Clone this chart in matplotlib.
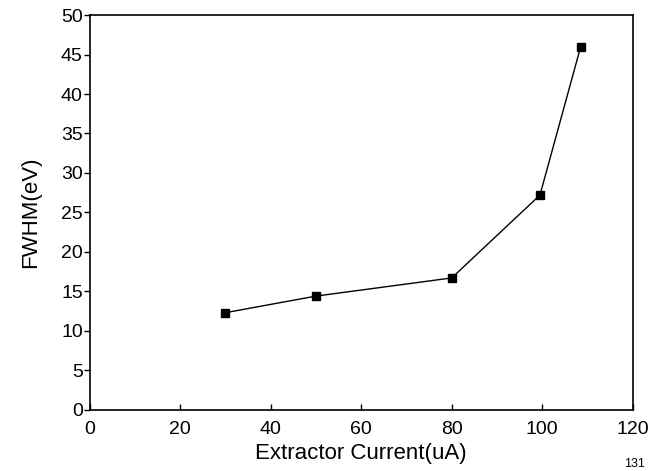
import matplotlib.pyplot as plt

plt.rcParams['font.family'] = ['Liberation Sans', 'DejaVu Sans']

# Extractor current (uA) vs FWHM (eV)
current = [30, 50, 80, 99.5, 108.5]
fwhm = [12.3, 14.4, 16.7, 27.2, 46.0]

fig = plt.figure(figsize=(6.55, 4.71), dpi=100)
ax = fig.add_axes([0.137, 0.13, 0.829, 0.838])

ax.plot(current, fwhm, color='black', linewidth=1.0, marker='s',
        markersize=6, markerfacecolor='black', markeredgecolor='black')

ax.set_xlim(0, 120)
ax.set_ylim(0, 50)
ax.set_xticks(range(0, 121, 20))
ax.set_yticks(range(0, 51, 5))
ax.tick_params(axis='y', direction='out', length=4, width=1, labelsize=14, pad=1)
ax.tick_params(axis='x', direction='in', length=4, width=1, labelsize=14, pad=8)
for s in ax.spines.values():
    s.set_linewidth(1.2)

ax.set_xlabel('Extractor Current(uA)', fontsize=16, labelpad=4)
ax.set_ylabel('FWHM(eV)', fontsize=16, labelpad=14)

fig.text(0.985, 0.015, '131', fontsize=9, ha='right', va='center')

fig.savefig('out.png', dpi=100)
